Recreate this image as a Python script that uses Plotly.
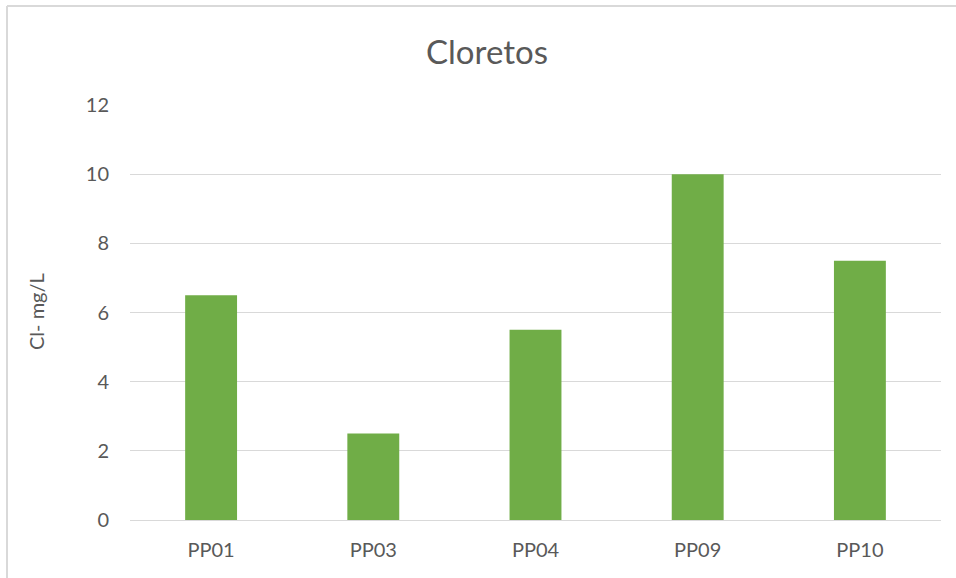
import plotly.graph_objects as go

# Chloride concentration per sampling well
wells = ["PP01", "PP03", "PP04", "PP09", "PP10"]
chloride = [6.5, 2.5, 5.5, 10, 7.5]
y_ticks = [0, 2, 4, 6, 8, 10, 12]

W, H = 956, 578
ML, MR, MT, MB = 130, 15, 105, 58
PW, PH = W - ML - MR, H - MT - MB


def px_x(x):
    return (x - ML) / PW


def px_y(y):
    return 1 - (y - MT) / PH


font_family = "Lato, 'Open Sans', sans-serif"
grey = "#595959"
grid = "#d9d9d9"

fig = go.Figure(
    go.Bar(
        x=wells,
        y=chloride,
        marker=dict(color="#70ad47", line=dict(width=0)),
        width=0.32,
    )
)

fig.update_layout(
    width=W,
    height=H,
    margin=dict(l=ML, r=MR, t=MT, b=MB),
    paper_bgcolor="white",
    plot_bgcolor="white",
    showlegend=False,
    font=dict(family=font_family, color=grey, size=20),
    title=dict(
        text="Cloretos",
        x=487 / W,
        xanchor="center",
        xref="container",
        y=1 - 52 / H,
        yanchor="middle",
        yref="container",
        font=dict(size=33, color=grey, family=font_family),
    ),
    xaxis=dict(
        showgrid=False,
        showline=False,
        ticks="",
        tickfont=dict(size=20, color=grey),
        ticklabelstandoff=16,
        fixedrange=True,
    ),
    yaxis=dict(
        range=[0, 12],
        tickvals=y_ticks,
        showgrid=True,
        gridcolor=grid,
        gridwidth=1,
        zeroline=True,
        zerolinecolor=grid,
        zerolinewidth=1,
        showline=False,
        ticks="",
        tickfont=dict(size=20, color=grey),
        ticklabelstandoff=20,
    ),
    annotations=[
        dict(
            text="Cl- mg/L",
            x=px_x(36),
            y=px_y(312),
            xref="paper",
            yref="paper",
            showarrow=False,
            textangle=-90,
            font=dict(size=20, color=grey, family=font_family),
            xanchor="center",
            yanchor="middle",
        )
    ],
    shapes=[
        # chart-area border (left and top edges)
        dict(type="line", xref="paper", yref="paper",
             x0=px_x(7), x1=px_x(7), y0=px_y(6), y1=px_y(H + 2),
             line=dict(color=grid, width=2)),
        dict(type="line", xref="paper", yref="paper",
             x0=px_x(7), x1=px_x(W + 2), y0=px_y(6), y1=px_y(6),
             line=dict(color=grid, width=2)),
    ],
)

fig.write_html("out.html")
